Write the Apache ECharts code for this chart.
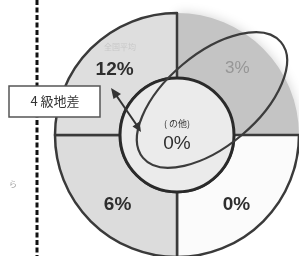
<!DOCTYPE html>
<html>
<head>
<meta charset="utf-8">
<script src="https://cdn.jsdelivr.net/npm/echarts@6/dist/echarts.min.js"></script>
<style>
  html, body { margin: 0; padding: 0; background: #fff; }
  #main { width: 299px; height: 256px; }
</style>
</head>
<body>
<div id="main"></div>
<script>
// 外側リング（上から時計回り）
var sliceNames = ['右上', '右下', '左下', '左上'];
var sliceShares = [1, 1, 1, 1];
var sliceLabels = ['3%', '0%', '6%', '12%'];
var sliceColors = ['#c4c4c4', '#fbfbfb', '#dcdcdc', '#dedede'];

// 中央の円
var centerName = '( の他)';
var centerLabel = '0%';

var boxText = '4 級地差';

var myChart = echarts.init(document.getElementById('main'));

// ラベルの微調整
var labelShift = [[-5, -1], [-6, 4], [6, 4], [3, 0]];

myChart.setOption({
    animation: false,
    series: [
        {
            type: 'pie',
            silent: true,
            center: [177, 135],
            radius: [57, 122],
            startAngle: 90,
            clockwise: true,
            avoidLabelOverlap: false,
            label: {
                show: true,
                position: 'inside',
                fontFamily: 'Liberation Sans, Arial, sans-serif',
                fontWeight: 'bold',
                fontSize: 19,
                color: '#2e2e2e',
                formatter: function (p) { return sliceLabels[p.dataIndex]; }
            },
            labelLine: { show: false },
            labelLayout: function (p) {
                return { dx: labelShift[p.dataIndex][0], dy: labelShift[p.dataIndex][1] };
            },
            data: sliceShares.map(function (v, i) {
                var item = {
                    name: sliceNames[i],
                    value: v,
                    itemStyle: { color: sliceColors[i], borderColor: '#3a3a3a', borderWidth: 2.5 }
                };
                if (i === 0) {
                    item.itemStyle.borderWidth = 0;
                    item.itemStyle.shadowBlur = 12;
                    item.itemStyle.shadowColor = 'rgba(0,0,0,0.18)';
                    item.label = { color: '#969696', fontWeight: 'normal', fontSize: 17 };
                }
                return item;
            })
        },
        {
            type: 'pie',
            silent: true,
            center: [177, 135],
            radius: [0, 57],
            label: {
                show: true,
                position: 'center',
                formatter: '{a|' + centerName + '}\n{b|' + centerLabel + '}',
                rich: {
                    a: { fontSize: 9, color: '#333', lineHeight: 18, fontFamily: 'Noto Sans CJK JP' },
                    b: { fontSize: 19, color: '#2e2e2e', lineHeight: 22, fontFamily: 'Liberation Sans, Arial, sans-serif' }
                }
            },
            labelLine: { show: false },
            data: [{ name: centerName, value: 1, itemStyle: { color: '#ebebeb', borderColor: '#2a2a2a', borderWidth: 3 } }]
        }
    ],
    graphic: [
        // 点線
        {
            type: 'line', z: 50,
            shape: { x1: 37, y1: 0, x2: 37, y2: 256 },
            style: { stroke: '#111', lineWidth: 3, lineDash: [5, 2.5] }
        },
        // 楕円
        {
            type: 'ellipse', z: 60,
            x: 212, y: 100, rotation: 40 * Math.PI / 180,
            shape: { cx: 0, cy: 0, rx: 90, ry: 46 },
            style: { fill: 'none', stroke: '#3c3c3c', lineWidth: 2.2 }
        },
        // 矢印
        {
            type: 'line', z: 70,
            shape: { x1: 116, y1: 95, x2: 138, y2: 127 },
            style: { stroke: '#333', lineWidth: 2 }
        },
        {
            type: 'polygon', z: 70,
            shape: { points: [[111, 88], [113.5, 99], [121, 94]] },
            style: { fill: '#333' }
        },
        {
            type: 'polygon', z: 70,
            shape: { points: [[141, 132], [132.5, 126.5], [139.5, 121.5]] },
            style: { fill: '#333' }
        },
        // ラベル枠
        {
            type: 'rect', z: 80,
            shape: { x: 9, y: 86, width: 91, height: 31 },
            style: { fill: '#fff', stroke: '#555', lineWidth: 1.5 }
        },
        {
            type: 'text', z: 81,
            x: 55, y: 101,
            style: {
                text: boxText, fill: '#333', fontSize: 13,
                fontFamily: 'Noto Sans CJK JP', align: 'center', verticalAlign: 'middle'
            }
        },
        // かすれた文字
        {
            type: 'text', z: 81,
            x: 120, y: 47,
            style: {
                text: '全国平均', fill: '#c8c8c8', fontSize: 8,
                fontFamily: 'Noto Sans CJK JP', align: 'center', verticalAlign: 'middle'
            }
        },
        {
            type: 'text', z: 81,
            x: 13, y: 184,
            style: {
                text: 'ら', fill: '#999', fontSize: 8,
                fontFamily: 'Noto Sans CJK JP', align: 'center', verticalAlign: 'middle'
            }
        }
    ]
});
</script>
</body>
</html>
